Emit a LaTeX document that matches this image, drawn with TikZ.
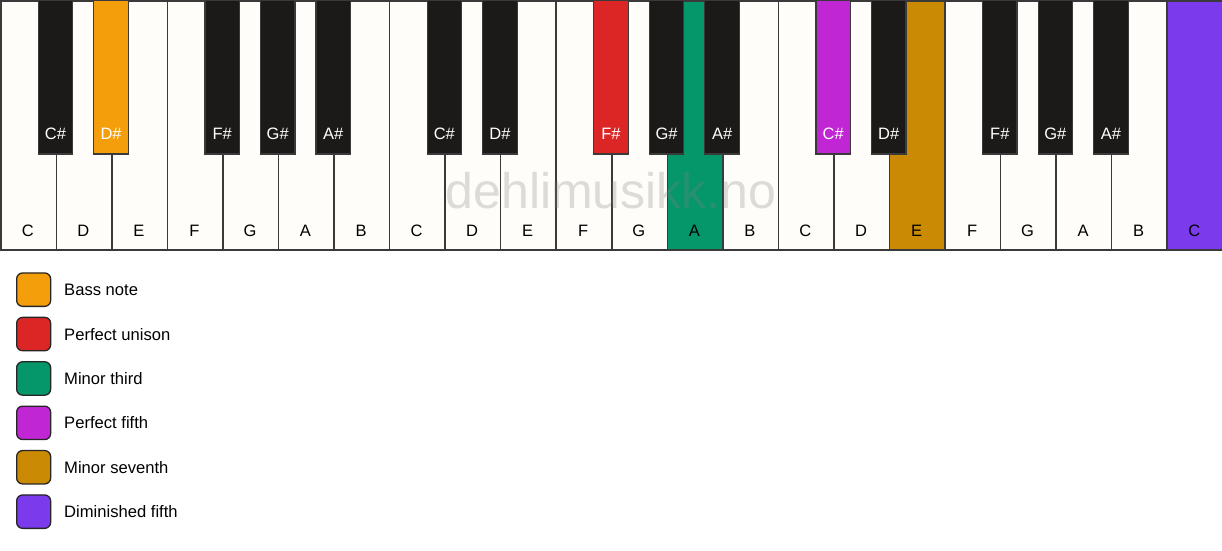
\documentclass[tikz,border=0pt]{standalone}
\usepackage{fontspec}
\setmainfont{Liberation Sans}
\definecolor{keywhite}{HTML}{FFFDF9}
\definecolor{keyblack}{HTML}{1C1A18}
\definecolor{keyline}{HTML}{3A3A3A}
\definecolor{bassnote}{HTML}{F59E0B}
\definecolor{punison}{HTML}{DC2626}
\definecolor{mthird}{HTML}{059669}
\definecolor{pfifth}{HTML}{C026D3}
\definecolor{mseventh}{HTML}{CA8A04}
\definecolor{dimfifth}{HTML}{7C3AED}
\begin{document}
\begin{tikzpicture}[x=1pt,y=-1pt,
  whitekey/.style={draw=keyline, line width=1.5pt, inner sep=0pt, minimum width=55.545pt, minimum height=249pt, anchor=north west},
  blackkey/.style={draw=keyline, line width=1.2pt, inner sep=0pt, minimum width=34.4pt, minimum height=153.3pt, anchor=north},
  keytext/.style={inner sep=0pt, anchor=base, font=\fontsize{16.5}{19}\selectfont},
  legbox/.style={draw=black!85, line width=1.3pt, rounded corners=6pt, minimum width=34pt, minimum height=33.4pt, inner sep=0pt, anchor=north west},
  legtext/.style={inner sep=0pt, anchor=base west, font=\fontsize{16.6}{19}\selectfont},
  watermark/.style={inner sep=0pt, anchor=base, font=\fontsize{50}{58}\selectfont, text=black!50, text opacity=0.27}
]
\useasboundingbox (0,0) rectangle (1222,550);
\fill[white] (0,0) rectangle (1222,550);
% white keys
\foreach \i/\n/\c in {0/C/keywhite,1/D/keywhite,2/E/keywhite,3/F/keywhite,4/G/keywhite,5/A/keywhite,6/B/keywhite,
  7/C/keywhite,8/D/keywhite,9/E/keywhite,10/F/keywhite,11/G/keywhite,12/A/mthird,13/B/keywhite,
  14/C/keywhite,15/D/keywhite,16/E/mseventh,17/F/keywhite,18/G/keywhite,19/A/keywhite,20/B/keywhite,21/C/dimfifth}{
  \node[whitekey, fill=\c] (w\i) at ({\i*55.545}, 0) {};
  \node[keytext] (lw\i) at ({(\i+0.5)*55.545}, 236) {\n};
}
% black keys
\foreach \b/\n/\c in {1/C\#/keyblack,2/D\#/bassnote,4/F\#/keyblack,5/G\#/keyblack,6/A\#/keyblack,
  8/C\#/keyblack,9/D\#/keyblack,11/F\#/punison,12/G\#/keyblack,13/A\#/keyblack,
  15/C\#/pfifth,16/D\#/keyblack,18/F\#/keyblack,19/G\#/keyblack,20/A\#/keyblack}{
  \node[blackkey, fill=\c] (b\b) at ({\b*55.545}, 0) {};
  \node[keytext, text=white] (lb\b) at ({\b*55.545}, 139.3) {\n};
}
% watermark
\node[watermark] (wm) at (611, 208) {dehlimusikk.no};
% legend
\foreach \k/\c/\t in {0/bassnote/Bass note,1/punison/Perfect unison,2/mthird/Minor third,
  3/pfifth/Perfect fifth,4/mseventh/Minor seventh,5/dimfifth/Diminished fifth}{
  \node[legbox, fill=\c] (lg\k) at (16, {272.3+\k*44.4}) {};
  \node[legtext] (lt\k) at (64, {295.6+\k*44.4}) {\t};
}
\end{tikzpicture}
\end{document}
